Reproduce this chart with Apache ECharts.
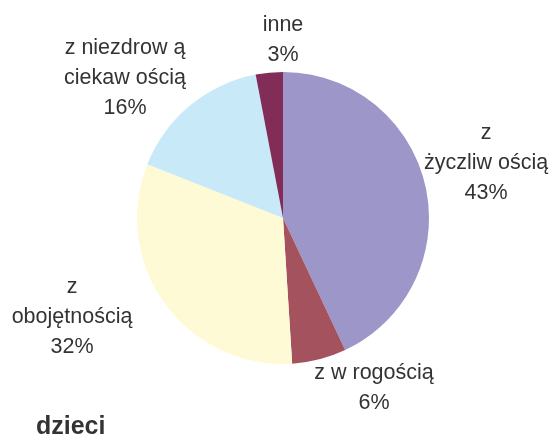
<!DOCTYPE html>
<html>
<head>
<meta charset="utf-8">
<script src="https://cdn.jsdelivr.net/npm/echarts@6/dist/echarts.min.js"></script>
<style>
  html, body { margin: 0; padding: 0; background: #fff; }
  #chart1 { width: 554px; height: 437px; }
</style>
</head>
<body>
<div id="chart1"></div>
<script>
var categories = ['z\nżyczliw ością', 'z w rogością', 'z\nobojętnością', 'z niezdrow ą\nciekaw ością', 'inne'];
var values = [43, 6, 32, 16, 3];
var colors = ['#9D96C8', '#A3525E', '#FFFAD6', '#C8E9F8', '#812D57'];

// label centres, same order as categories
var labelPos = [[486, 163], [374, 388], [72, 317], [125, 78], [283, 40]];

var dom = document.getElementById('chart1');
var myChart = echarts.init(dom, null, { renderer: 'canvas' });

var option = {
  animation: false,
  color: colors,
  title: {
    text: 'dzieci',
    left: 31,
    top: 410,
    textStyle: {
      fontFamily: 'Liberation Sans',
      fontSize: 25,
      fontWeight: 'bold',
      color: '#333333'
    }
  },
  series: [
    {
      type: 'pie',
      center: [283, 218],
      radius: 146,
      startAngle: 90,
      clockwise: true,
      avoidLabelOverlap: false,
      itemStyle: { borderWidth: 0 },
      label: {
        show: true,
        position: 'outside',
        formatter: function (p) { return p.name + '\n' + p.value + '%'; },
        fontFamily: 'Liberation Sans',
        fontSize: 21.5,
        lineHeight: 30,
        color: '#333333',
        align: 'center'
      },
      labelLine: { show: false },
      labelLayout: function (params) {
        var pos = labelPos[params.dataIndex];
        return { x: pos[0], y: pos[1], align: 'center', verticalAlign: 'middle' };
      },
      data: categories.map(function (c, i) {
        return { name: c, value: values[i] };
      })
    }
  ]
};

myChart.setOption(option);
window.addEventListener('resize', myChart.resize);
</script>
</body>
</html>
